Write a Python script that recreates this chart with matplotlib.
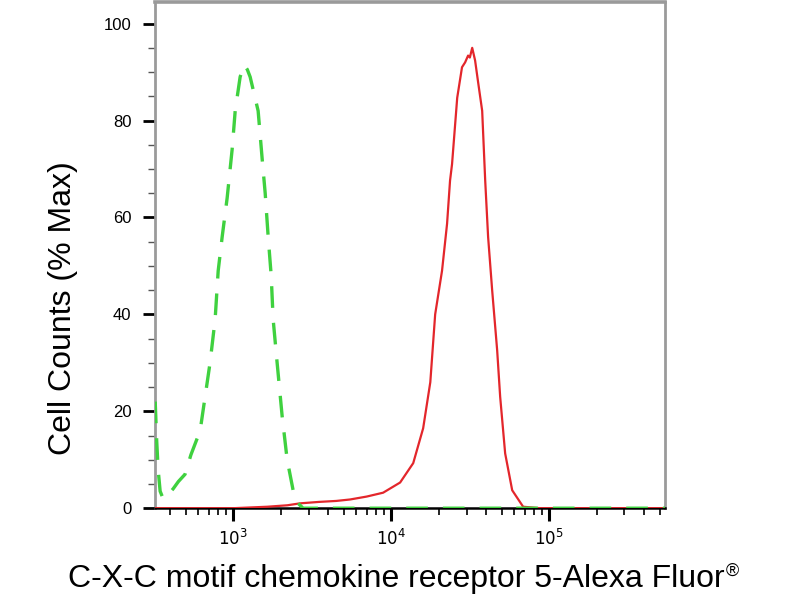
import matplotlib.pyplot as plt
from matplotlib.ticker import LogLocator, MultipleLocator, NullFormatter

plt.rcParams['font.family'] = ['Liberation Sans', 'DejaVu Sans']

# isotype control (green dashed)
iso_x = [321, 328, 335, 345, 360, 380, 417, 450, 496, 540, 618, 714, 769, 804,
         852, 916, 985, 1030, 1107, 1174, 1230, 1281, 1439, 1527, 1595, 1666,
         1741, 1791, 1898, 2042, 2197, 2467, 2771, 10000, 100000, 540000]
iso_y = [22, 14, 8, 3.5, 2.0, 2.5, 4, 5.5, 7, 11, 16, 30, 39, 49,
         56, 64, 74, 82, 89, 91.5, 90.5, 89, 82, 72, 65, 56,
         48, 39, 30, 19, 10, 1.6, 0, 0, 0, 0]

# stained sample (red)
cxcr5_x = [321, 1000, 1640, 2200, 2650, 3500, 4500, 5500, 7000, 8900, 11400,
           13800, 15950, 17700, 19000, 21000, 22600, 23600, 24300, 26200,
           28100, 29400, 30700, 31500, 32600, 34000, 35500, 37700, 39400,
           41100, 43600, 46900, 49000, 52700, 58400, 68500, 87700, 540000]
cxcr5_y = [0, 0, 0.3, 0.6, 1.0, 1.3, 1.5, 1.8, 2.4, 3.2, 5.3,
           9.3, 16.5, 26, 40, 49, 58.7, 67.6, 71, 84.7,
           91, 92, 93.4, 93, 95, 92.4, 88, 82, 67.6,
           56, 45, 32.6, 23, 11.3, 3.7, 0.3, 0, 0]

y_ticks = [0, 20, 40, 60, 80, 100]
x_ticks = [1e3, 1e4, 1e5]
x_tick_labels = ['$10^3$', '$10^4$', '$10^5$']

fig = plt.figure(figsize=(8, 6), dpi=100)
ax = fig.add_axes([0.194, 0.153, 0.637, 0.844])

ax.plot(cxcr5_x, cxcr5_y, color='#e3262b', lw=1.6, zorder=3)
ax.plot(iso_x, iso_y, color='#3fd13f', lw=2.4, dashes=(6.5, 4.5), zorder=4)

ax.set_xscale('log')
ax.set_xlim(321, 540000)
ax.set_ylim(0, 104.5)

ax.set_yticks(y_ticks)
ax.yaxis.set_minor_locator(MultipleLocator(5))
ax.set_xticks(x_ticks)
ax.set_xticklabels(x_tick_labels)
ax.xaxis.set_minor_locator(LogLocator(base=10, subs=range(2, 10)))
ax.xaxis.set_minor_formatter(NullFormatter())

ax.tick_params(axis='y', which='major', length=9, width=2, color='black',
               labelsize=12, pad=8)
ax.tick_params(axis='y', which='minor', length=5, width=1, color='#555555')
ax.tick_params(axis='x', which='major', length=9, width=2.2, color='black',
               labelsize=12, pad=5)
ax.tick_params(axis='x', which='minor', length=5, width=1.2, color='black')

for side in ['left', 'right', 'top']:
    ax.spines[side].set_color('#9a9a9a')
    ax.spines[side].set_linewidth(2)
ax.spines['top'].set_linewidth(2.6)
ax.spines['bottom'].set_color('black')
ax.spines['bottom'].set_linewidth(1.8)

fig.text(0.079, 0.487, 'Cell Counts (% Max)', rotation=90,
         ha='center', va='center', fontsize=23)
xlab = fig.text(0.495, 0.022, 'C-X-C motif chemokine receptor 5-Alexa Fluor',
                ha='center', va='baseline', fontsize=23)
ax.annotate('®', xy=(1, 1), xycoords=xlab, xytext=(1, 1),
            textcoords='offset points', ha='left', va='top', fontsize=13)

fig.savefig('out.png', dpi=100)
